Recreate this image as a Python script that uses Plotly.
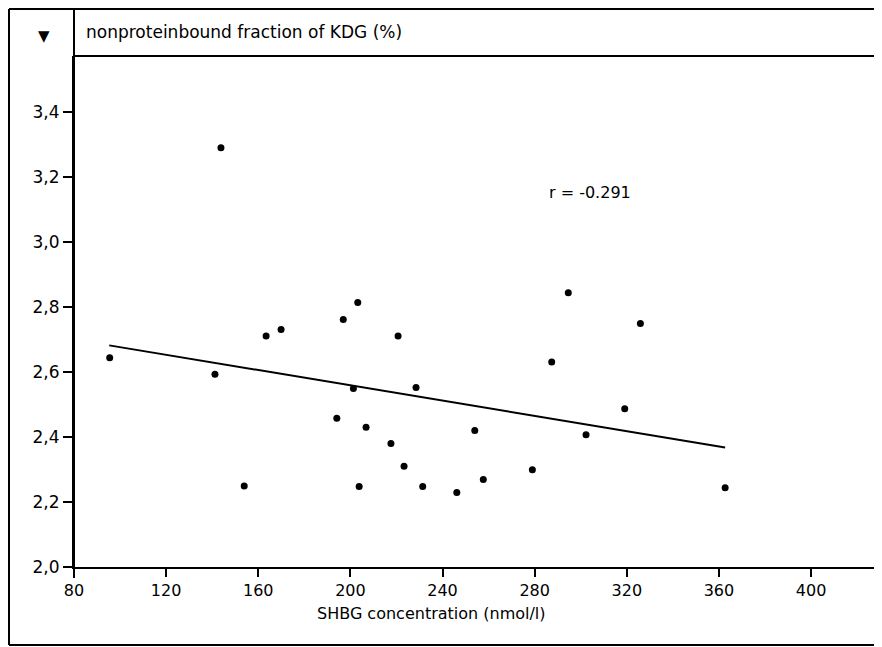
import plotly.graph_objects as go

# ---- data ----
shbg = [95.5, 143.8, 141.2, 153.9, 163.4, 169.9, 196.9, 203.2, 194.1, 201.3,
        206.8, 203.8, 217.6, 220.7, 223.3, 228.5, 231.4, 246.2, 254.0, 257.7,
        279.0, 287.4, 294.6, 302.3, 319.1, 325.9, 362.7]
kdg = [2.644, 3.290, 2.593, 2.249, 2.711, 2.731, 2.762, 2.814, 2.458, 2.549,
       2.430, 2.248, 2.380, 2.711, 2.310, 2.552, 2.248, 2.229, 2.420, 2.269,
       2.299, 2.631, 2.844, 2.407, 2.487, 2.749, 2.244]
fit_x = [95.3, 362.7]
fit_y = [2.682, 2.368]
x_ticks = [80, 120, 160, 200, 240, 280, 320, 360, 400]
y_ticks = [2.0, 2.2, 2.4, 2.6, 2.8, 3.0, 3.2, 3.4]
title_text = "nonproteinbound fraction of KDG (%)"
x_title = "SHBG concentration (nmol/l)"
r_text = "r = -0.291"

FONT = "DejaVu Sans"
FS = 17
OFF = 8            # page body margin offset
W, H = 882 - OFF, 647 - OFF
ML, MT, MB = 74 - OFF, 56 - OFF, 80
PW = W - ML
PH = H - MT - MB


def px(x):
    """reference page pixel x -> paper coordinate"""
    return (x - OFF - ML) / PW


def py(y):
    """reference page pixel y -> paper coordinate"""
    return (H - MB - (y - OFF)) / PH


fig = go.Figure()
fig.add_trace(go.Scatter(x=fit_x, y=fit_y, mode="lines",
                         line=dict(color="black", width=2), hoverinfo="skip"))
fig.add_trace(go.Scatter(x=shbg, y=kdg, mode="markers",
                         marker=dict(color="black", size=7)))

line = dict(color="black", width=2)
shapes = [
    dict(type="line", xref="paper", yref="paper", x0=px(9), y0=py(9), x1=px(882), y1=py(9), line=line),
    dict(type="line", xref="paper", yref="paper", x0=px(9), y0=py(9), x1=px(9), y1=py(645), line=line),
    dict(type="line", xref="paper", yref="paper", x0=px(9), y0=py(645), x1=px(882), y1=py(645), line=line),
    dict(type="line", xref="paper", yref="paper", x0=px(74), y0=py(56), x1=px(882), y1=py(56), line=line),
    dict(type="line", xref="paper", yref="paper", x0=px(74), y0=py(9), x1=px(74), y1=py(578), line=line),
]

annotations = [
    dict(text="▼", xref="paper", yref="paper", x=px(44), y=py(36), showarrow=False,
         font=dict(family=FONT, size=15, color="black"), xanchor="center", yanchor="middle"),
    dict(text=title_text, xref="paper", yref="paper", x=px(84), y=py(32), showarrow=False,
         font=dict(family=FONT, size=FS, color="black"), xanchor="left", yanchor="middle"),
    dict(text=x_title, xref="paper", yref="paper", x=px(431), y=py(613), showarrow=False,
         font=dict(family=FONT, size=16, color="black"), xanchor="center", yanchor="middle"),
    dict(text=r_text, xref="paper", yref="paper", x=px(547), y=py(192), showarrow=False,
         font=dict(family=FONT, size=16, color="black"), xanchor="left", yanchor="middle"),
]

fig.update_layout(
    width=W, height=H,
    margin=dict(l=ML, r=0, t=MT, b=MB, pad=0),
    paper_bgcolor="white", plot_bgcolor="white",
    showlegend=False,
    separators=",.",
    shapes=shapes,
    annotations=annotations,
    font=dict(family=FONT, size=FS, color="black"),
    xaxis=dict(range=[80, 430.8], tickvals=x_ticks, ticks="outside", ticklen=8,
               tickwidth=1.5, tickcolor="black", showline=True, linewidth=2,
               linecolor="black", showgrid=False, zeroline=False,
               tickfont=dict(family=FONT, size=16, color="black")),
    yaxis=dict(range=[2.0, 3.5725], tickvals=y_ticks, tickformat=".1f", ticks="outside",
               ticklen=9, tickwidth=1.5, tickcolor="black", showline=True, linewidth=2,
               linecolor="black", showgrid=False, zeroline=False,
               tickfont=dict(family=FONT, size=FS, color="black")),
)

fig.write_html("out.html")
